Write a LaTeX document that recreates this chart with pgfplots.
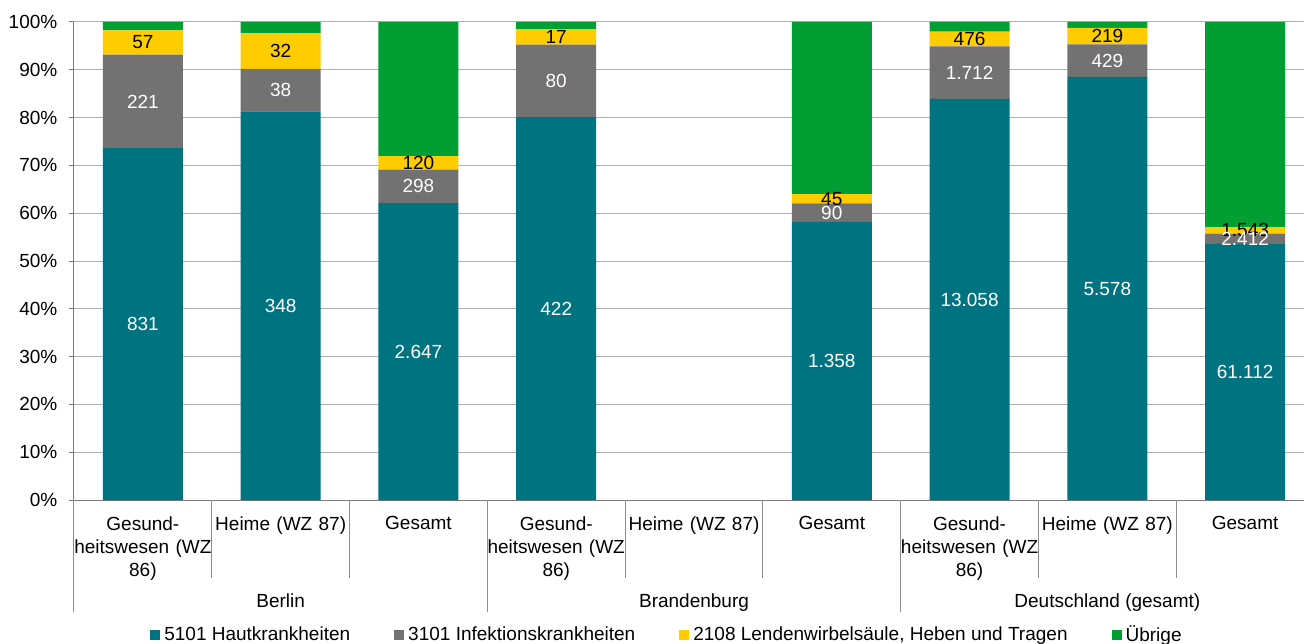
\documentclass[border=0pt]{standalone}
\usepackage{pgfplots}
\pgfplotsset{compat=1.18}
\usepackage{pgfplotstable}
\usepackage{fontspec}
\setmainfont{Liberation Sans}

\definecolor{haut}{RGB}{0,115,128}
\definecolor{infekt}{RGB}{115,113,114}
\definecolor{lenden}{RGB}{255,204,0}
\definecolor{uebrige}{RGB}{0,158,51}
\definecolor{gridgray}{RGB}{175,175,175}

\newcommand{\lblfont}{\fontsize{9.5}{11.5}\selectfont}

% share of each group in percent (p) and the count shown in the bar (n)
\pgfplotstableread{
x p n
0 73.61 831
1 81.31 348
2 62.11 2.647
3 80.08 422
4 0 {}
5 58.21 1.358
6 83.90 13.058
7 88.50 5.578
8 53.60 61.112
}\haut
\pgfplotstableread{
x p n
0 19.57 221
1 8.88 38
2 6.99 298
3 15.18 80
4 0 {}
5 3.86 90
6 11.00 1.712
7 6.81 429
8 2.12 2.412
}\infekt
\pgfplotstableread{
x p n
0 5.05 57
1 7.48 32
2 2.82 120
3 3.23 17
4 0 {}
5 1.93 45
6 3.06 476
7 3.47 219
8 1.35 1.543
}\lenden
\pgfplotstableread{
x p
0 1.77
1 2.33
2 28.08
3 1.51
4 0
5 36.00
6 2.04
7 1.22
8 42.93
}\uebrige

\begin{document}
\begin{tikzpicture}[font=\lblfont]
\begin{axis}[
    width=620pt, height=239pt, scale only axis,
    clip=false,
    ybar stacked, bar width=40pt,
    xmin=-0.5, xmax=8.5, ymin=0, ymax=100,
    xtick={0,...,8},
    xticklabels={{Gesund-\\heitswesen (WZ\\86)}, {Heime (WZ 87)}, {Gesamt},
                 {Gesund-\\heitswesen (WZ\\86)}, {Heime (WZ 87)}, {Gesamt},
                 {Gesund-\\heitswesen (WZ\\86)}, {Heime (WZ 87)}, {Gesamt}},
    xticklabel style={text width=70pt, align=center, anchor=north, font=\lblfont, yshift=-2.3pt},
    x tick style={draw=none},
    ytick={0,10,...,100},
    yticklabels={0\%,10\%,20\%,30\%,40\%,50\%,60\%,70\%,80\%,90\%,100\%},
    yticklabel style={font=\lblfont, xshift=-2.3pt},
    y tick style={gridgray!70!black, line width=0.5pt},
    tick align=outside, major tick length=2.5pt,
    ymajorgrids, grid style={gridgray, line width=0.5pt},
    axis x line*=bottom, axis y line*=left,
    axis line style={gridgray!70!black, line width=0.5pt, -},
    legend columns=4,
    legend style={draw=none, fill=none, font=\lblfont, at={(0.479,0)}, anchor=center, yshift=-67.5pt,
        /tikz/every even column/.append style={column sep=20pt}},
    legend cell align=left,
]

\addplot[fill=haut, draw=none, nodes near coords, point meta=explicit symbolic,
    every node near coord/.append style={text=white, font=\lblfont, anchor=center},
    legend image code/.code={\fill[haut] (0pt,-2.5pt) rectangle (5pt,2.5pt);}]
    table[x=x, y=p, meta=n] {\haut};
\addlegendentry{5101 Hautkrankheiten}

\addplot[fill=infekt, draw=none, nodes near coords, point meta=explicit symbolic,
    every node near coord/.append style={text=white, font=\lblfont, anchor=center},
    legend image code/.code={\fill[infekt] (0pt,-2.5pt) rectangle (5pt,2.5pt);}]
    table[x=x, y=p, meta=n] {\infekt};
\addlegendentry{3101 Infektionskrankheiten}

\addplot[fill=lenden, draw=none, nodes near coords, point meta=explicit symbolic,
    every node near coord/.append style={text=black, font=\lblfont, anchor=center},
    legend image code/.code={\fill[lenden] (0pt,-2.5pt) rectangle (5pt,2.5pt);}]
    table[x=x, y=p, meta=n] {\lenden};
\addlegendentry{2108 Lendenwirbelsäule, Heben und Tragen}

\addplot[fill=uebrige, draw=none,
    legend image code/.code={\fill[uebrige] (0pt,-2.5pt) rectangle (5pt,2.5pt);}]
    table[x=x, y=p] {\uebrige};
\addlegendentry{Übrige}

% separators of the two-level category axis
\pgfplotsinvokeforeach{0.5,1.5,3.5,4.5,6.5,7.5}{
    \draw[gridgray!80!black, line width=0.5pt] (axis cs:#1,0) -- ++(0pt,-39pt);
}
\pgfplotsinvokeforeach{-0.5,2.5,5.5}{
    \draw[gridgray!80!black, line width=0.5pt] (axis cs:#1,0) -- ++(0pt,-56pt);
}
\node[anchor=base, yshift=-53.5pt] at (axis cs:1,0) {Berlin};
\node[anchor=base, yshift=-53.5pt] at (axis cs:4,0) {Brandenburg};
\node[anchor=base, yshift=-53.5pt] at (axis cs:7,0) {Deutschland (gesamt)};
\end{axis}
\pgfresetboundingbox
\useasboundingbox ([shift={(-37pt,-71.5pt)}]current axis.south west) rectangle ([shift={(615pt,250pt)}]current axis.south west);
\end{tikzpicture}
\end{document}
